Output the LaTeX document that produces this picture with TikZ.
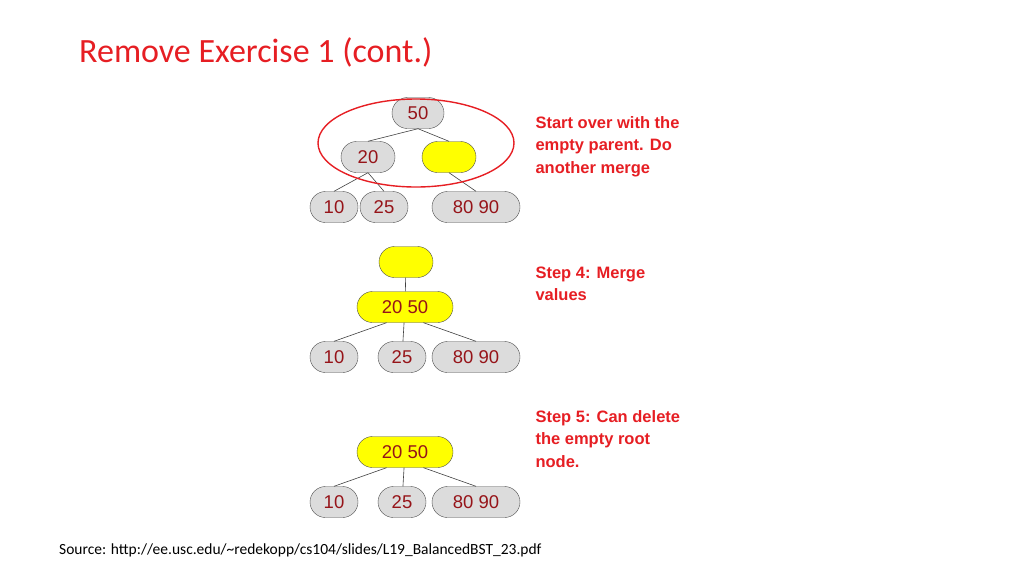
\documentclass[tikz,border=0pt]{standalone}
\usepackage{fontspec}
\setmainfont{Liberation Sans}
\newfontfamily\titlefont{Carlito}
\usetikzlibrary{shapes,positioning}
\definecolor{slidered}{RGB}{230,30,35}
\definecolor{keyred}{RGB}{150,20,25}
\definecolor{keygray}{RGB}{220,220,220}
\definecolor{keyyellow}{RGB}{255,255,0}

\begin{document}
\begin{tikzpicture}[
    x=1pt, y=-1pt,
    key/.style={rounded rectangle, draw=black!70, fill=keygray, minimum height=31, minimum width=52, inner xsep=2pt, font=\fontsize{18.5}{18.5}\selectfont, text=keyred},
    hot/.style={key, fill=keyyellow},
    note/.style={anchor=north west, align=left, text=slidered, font=\bfseries\fontsize{16.5}{22.5}\selectfont},
    link/.style={draw=black!75, line width=0.6pt}
]
\useasboundingbox (0,0) rectangle (1024,576);

% Title and source
\node[anchor=west, inner sep=0pt, text=slidered, font=\titlefont\fontsize{34}{34}\selectfont] (title) at (79,52) {Remove Exercise 1 (cont.)};
\node[anchor=west, inner sep=0pt, font=\titlefont\fontsize{15.5}{15.5}\selectfont] (source) at (59,550) {Source: http://ee.usc.edu/\textasciitilde redekopp/cs104/slides/L19\_BalancedBST\_23.pdf};

% Top tree
\node[key, minimum width=56] (a50) at (418,113) {50};
\node[key, minimum width=58] (a20) at (368,157) {20};
\node[hot, minimum width=58] (aE) at (449,157) {};
\node[key] (a10) at (334,207) {10};
\node[key] (a25) at (384,207) {25};
\node[key, minimum width=92] (a8090) at (476,207) {80 90};
\draw[link] (a50.south) -- (a20.north);
\draw[link] (a50.south) -- (aE.north);
\draw[link] (a20.south) -- (a10.north);
\draw[link] (a20.south) -- (a25.north);
\draw[link] (aE.south) -- (a8090.north);
\draw[slidered, line width=1.4pt] (416,143) ellipse [x radius=98, y radius=44];
\node[note] (noteA) at (532,113) {Start over with the\\empty parent. Do\\another merge};

% Middle tree
\node[hot, minimum width=58] (bE) at (406,262) {};
\node[hot, minimum width=100] (b2050) at (405,307) {20 50};
\node[key] (b10) at (334,357) {10};
\node[key] (b25) at (402,357) {25};
\node[key, minimum width=92] (b8090) at (476,357) {80 90};
\draw[link] (bE) -- (b2050);
\draw[link] (b2050.south west) ++(14,0) -- (b10.north);
\draw[link] (b2050) -- (b25);
\draw[link] (b2050.south east) ++(-14,0) -- (b8090.north);
\node[note] (noteB) at (532,263) {Step 4: Merge\\values};

% Bottom tree
\node[hot, minimum width=100] (c2050) at (405,452) {20 50};
\node[key] (c10) at (334,502) {10};
\node[key] (c25) at (402,502) {25};
\node[key, minimum width=92] (c8090) at (476,502) {80 90};
\draw[link] (c2050.south west) ++(14,0) -- (c10.north);
\draw[link] (c2050) -- (c25);
\draw[link] (c2050.south east) ++(-14,0) -- (c8090.north);
\node[note] (noteC) at (532,407) {Step 5: Can delete\\the empty root\\node.};
\end{tikzpicture}
\end{document}
